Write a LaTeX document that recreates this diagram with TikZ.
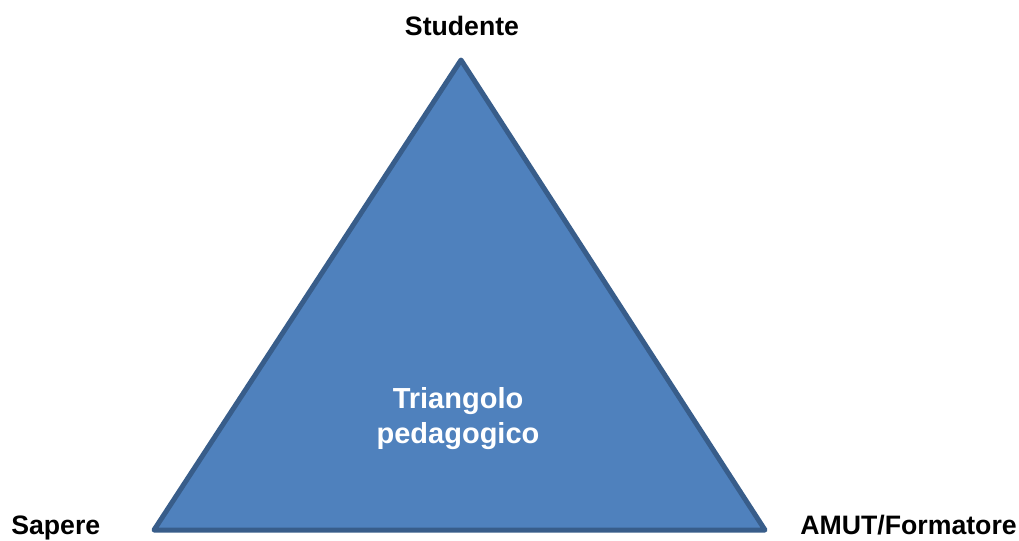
\documentclass[tikz,border=0pt]{standalone}
\usepackage{fontspec}
\setmainfont{Liberation Sans}
\definecolor{trifill}{HTML}{4F81BD}
\definecolor{tristroke}{HTML}{385D8A}
\tikzset{
  lbl/.style={font=\bfseries\fontsize{20}{24}\selectfont, text=black, inner sep=0pt},
  inner/.style={font=\bfseries\fontsize{21.75}{26.25}\selectfont, text=white, align=center, inner sep=0pt},
}
\begin{document}
\begin{tikzpicture}[x=0.75pt,y=-0.75pt]
\useasboundingbox (0,0) rectangle (1019,540);
\coordinate (top) at (461,60);
\coordinate (bl) at (154,530);
\coordinate (br) at (765,530);
\draw[fill=trifill, draw=tristroke, line width=3.75pt, line join=round] (top) -- (bl) -- (br) -- cycle;
\node[lbl, anchor=base] (stud) at (462,35) {Studente};
\node[lbl, anchor=base west] (sap) at (11,534) {Sapere};
\node[lbl, anchor=base east] (amut) at (1017,534) {AMUT/Formatore};
\node[inner, anchor=base] (tri) at (458,443) {Triangolo\\pedagogico};
\end{tikzpicture}
\end{document}
